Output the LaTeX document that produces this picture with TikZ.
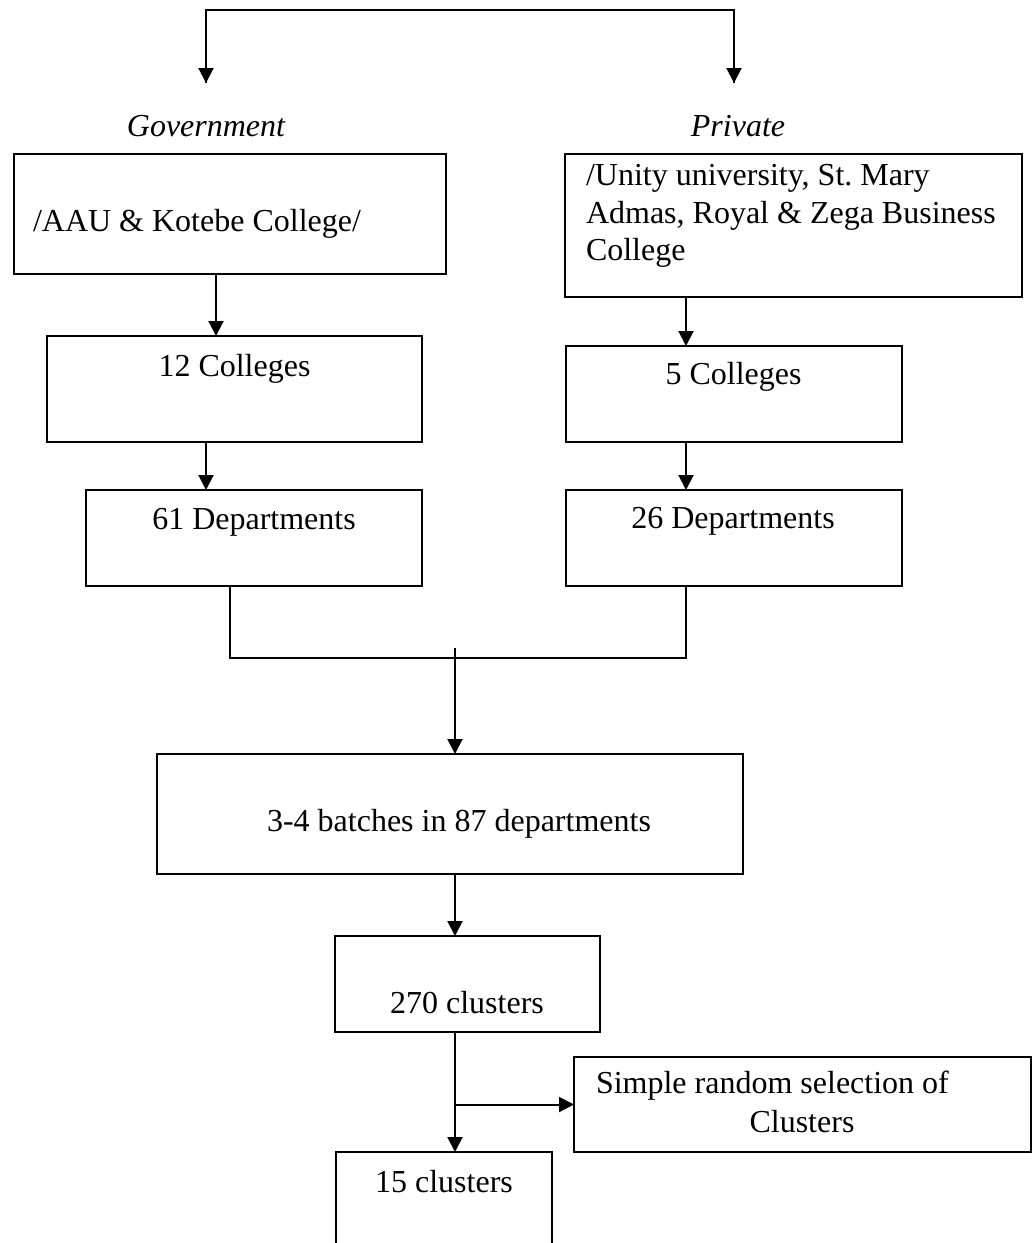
\documentclass[tikz,border=0pt]{standalone}
\usepackage{fontspec}
\setmainfont{Liberation Serif}
\usetikzlibrary{arrows.meta}
\begin{document}
\begin{tikzpicture}[x=1pt,y=-1pt,
  box/.style={draw=black,line width=2.4pt,inner sep=0pt,outer sep=0pt,fill=none},
  txt/.style={inner sep=0pt,outer sep=0pt,font=\fontsize{32}{37}\selectfont},
  conn/.style={draw=black,line width=2pt,line join=miter},
  arr/.style={conn,-{Triangle[length=15pt,width=15pt]}}]
\useasboundingbox (0,0) rectangle (1035,1243);
\clip (0,0) rectangle (1035,1243);
\fill[white] (0,0) rectangle (1035,1243);

% boxes
\node[box,minimum width=432pt,minimum height=120pt] (gov)   at (230,214) {};
\node[box,minimum width=457pt,minimum height=143pt] (priv)  at (793.5,225.5) {};
\node[box,minimum width=375pt,minimum height=106pt] (col12) at (234.5,389) {};
\node[box,minimum width=336pt,minimum height=96pt]  (dep61) at (254,538) {};
\node[box,minimum width=336pt,minimum height=96pt]  (col5)  at (734,394) {};
\node[box,minimum width=336pt,minimum height=96pt]  (dep26) at (734,538) {};
\node[box,minimum width=586pt,minimum height=120pt] (batch) at (450,814) {};
\node[box,minimum width=265pt,minimum height=96pt]  (c270)  at (467.5,984) {};
\node[box,minimum width=457pt,minimum height=95pt]  (srs)   at (802.5,1104.5) {};
\node[box,minimum width=216pt,minimum height=130pt] (c15)   at (444,1217) {};

% texts
\node[txt,anchor=base] (tgov) at (206,136) {\itshape Government};
\node[txt,anchor=base] (tpriv) at (738,136) {\itshape Private};
\node[txt,anchor=base west] (lgov) at (33,231) {/AAU \& Kotebe College/};
\node[txt,anchor=base west] (lp1) at (586,185) {/Unity university, St.\ Mary};
\node[txt,anchor=base west] (lp2) at (586,223) {Admas, Royal \& Zega Business};
\node[txt,anchor=base west] (lp3) at (586,260) {College};
\node[txt,anchor=base] (l12) at (234.5,376) {12 Colleges};
\node[txt,anchor=base] (l61) at (254,529) {61 Departments};
\node[txt,anchor=base] (l5) at (733.5,384) {5 Colleges};
\node[txt,anchor=base] (l26) at (733,528) {26 Departments};
\node[txt,anchor=base] (lb) at (459,831) {3-4 batches in 87 departments};
\node[txt,anchor=base] (l270) at (467,1013) {270 clusters};
\node[txt,anchor=base west] (ls1) at (596,1093) {Simple random selection of};
\node[txt,anchor=base] (ls2) at (802,1132) {Clusters};
\node[txt,anchor=base] (l15) at (444,1192) {15 clusters};

% helper coordinates
\coordinate (tl) at (206,10);
\coordinate (tr) at (734,10);
\coordinate (al) at (206,83);
\coordinate (ar) at (734,83);
\coordinate (x1) at (216,0);
\coordinate (x2) at (206,0);
\coordinate (x3) at (686,0);
\coordinate (x4) at (230,0);
\coordinate (x5) at (455,0);
\coordinate (m) at (455,658);
\coordinate (ms) at (455,648);
\coordinate (br) at (455,1104.5);

% connectors
\draw[conn] (al) -- (tl) -- (tr) -- (ar);
\draw[arr] (tl) -- (al);
\draw[arr] (tr) -- (ar);
\draw[arr] (gov.south -| x1) -- (col12.north -| x1);
\draw[arr] (col12.south -| x2) -- (dep61.north -| x2);
\draw[arr] (priv.south -| x3) -- (col5.north -| x3);
\draw[arr] (col5.south -| x3) -- (dep26.north -| x3);
\draw[conn] (dep61.south -| x4) |- (m) -| (dep26.south -| x3);
\draw[arr] (ms) -- (batch.north -| ms);
\draw[arr] (batch.south -| x5) -- (c270.north -| x5);
\draw[arr] (c270.south -| x5) -- (c15.north -| x5);
\draw[arr] (br) -- (srs.west);
\end{tikzpicture}
\end{document}
